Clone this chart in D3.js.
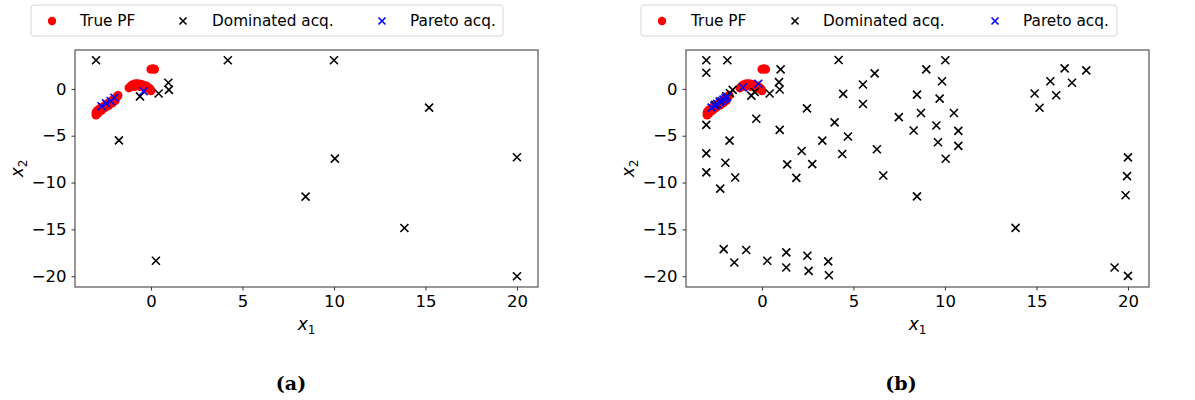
<!DOCTYPE html>
<html>
<head>
<meta charset="utf-8">
<script src="https://cdn.jsdelivr.net/npm/d3@7"></script>
<style>
  body { margin: 0; background: #fff; }
  svg text { font-family: "DejaVu Sans", sans-serif; }
</style>
</head>
<body>
<svg id="chart" width="1195" height="400"></svg>
<script>
// ---------- data ----------
const xTicks = [0, 5, 10, 15, 20];
const yTicks = [0, -5, -10, -15, -20];
const xDomain = [-4.15, 21.15];
const yDomain = [-21.15, 4.15];
const legendLabels = ["True PF", "Dominated acq.", "Pareto acq."];
const captions = ["(a)", "(b)"];

// True Pareto front (same in both panels)
const truePF = [
  [-3.0,-2.8],[-3.0,-2.55],[-2.95,-2.35],[-2.85,-2.2],[-2.75,-2.05],[-2.65,-1.95],
  [-2.55,-1.85],[-2.45,-1.7],[-2.35,-1.55],[-2.25,-1.45],[-2.15,-1.3],[-2.05,-1.15],
  [-1.95,-1.0],[-1.85,-0.85],[-1.8,-0.7],
  [-2.9,-2.6],[-2.7,-2.3],[-2.5,-2.0],[-2.3,-1.75],[-2.1,-1.5],[-1.95,-1.25],
  [-1.2,0.1],[-1.1,0.3],[-1.0,0.45],[-0.85,0.55],[-0.7,0.55],[-0.55,0.5],
  [-0.4,0.4],[-0.25,0.3],[-0.15,0.15],[-0.05,0.0],[0.0,-0.2],
  [-0.9,0.25],[-0.6,0.25],[-0.3,0.05],
  [0.0,2.1],[0.1,2.15],[0.2,2.1]
];

// Panel (a)
const dominatedA = [
  [-3.0,3.05],[4.2,3.05],[10.0,3.05],[15.2,-2.0],[-1.75,-5.5],[0.27,-18.35],
  [-0.6,-0.8],[0.42,-0.5],[0.95,0.65],[0.98,-0.1],[10.05,-7.45],[20.0,-7.3],
  [8.45,-11.5],[13.85,-14.85],[20.0,-20.0]
];
const paretoA = [
  [-2.7,-1.85],[-2.45,-1.55],[-2.2,-1.3],[-2.0,-0.95],[-0.4,-0.25]
];

// Panel (b)
const dominatedB = [
  [-3.04,3.05],[-1.89,3.05],[-3.04,1.72],[1.02,2.08],[0.93,0.72],[0.97,-0.07],
  [0.42,-0.5],[-0.58,-0.72],[-0.4,-0.32],[-0.31,-3.19],[0.97,-4.37],[-3.04,-3.84],
  [-1.77,-5.52],[-3.04,-6.88],[-2.0,-7.89],[-3.04,-8.92],[-1.46,-9.46],[-2.28,-10.65],
  [1.38,-8.06],[1.88,-9.5],[2.17,-6.63],[2.75,-8.03],[2.46,-2.08],[3.3,-5.52],
  [3.97,-3.58],[4.19,3.08],[4.44,-0.54],[4.39,-6.95],[4.7,-5.09],[5.52,0.47],
  [5.52,-1.61],[6.16,1.65],[6.28,-6.45],[6.63,-9.25],[7.48,-3.01],
  [-2.09,-17.1],[-1.51,-18.53],[-0.86,-17.2],[0.29,-18.35],[1.33,-17.46],[1.33,-19.07],
  [2.48,-17.81],[2.55,-19.43],[3.62,-18.42],[3.66,-19.89],
  [8.98,2.08],[10.02,3.05],[9.84,0.82],[8.47,-0.61],[9.71,-1.04],[8.69,-2.58],
  [10.49,-2.58],[8.29,-4.44],[9.53,-3.91],[10.73,-4.48],[9.62,-5.7],[10.73,-6.09],
  [10.04,-7.46],[8.47,-11.47],
  [14.9,-0.5],[15.17,-2.01],[15.76,0.82],[16.08,-0.68],[16.54,2.19],[16.94,0.65],
  [17.72,1.97],[13.86,-14.84],[20.0,-7.31],[19.95,-9.32],[19.87,-11.36],
  [19.27,-19.07],[20.0,-19.96],
  [-2.55,-1.7],[-2.3,-1.35],[-1.95,-0.8],[-1.75,-0.45],[-1.6,-0.1]
];
const paretoB = [
  [-2.75,-2.0],[-2.6,-1.8],[-2.45,-1.6],[-2.3,-1.45],[-2.2,-1.3],[-2.1,-1.15],
  [-2.0,-1.0],[-1.9,-0.85],[-1.05,0.15],[-0.2,0.55]
];

// ---------- drawing ----------
const svg = d3.select("#chart");
const fmt = d => (d < 0 ? "\u2212" + Math.abs(d) : String(d));

const panels = [
  { left: 75, right: 538, dom: dominatedA, par: paretoA, cap: captions[0], capX: 291,
    legend: { x0: 31, x1: 503, dot: 52, t1: 80, xb: 183, t2: 212, xp: 382, t3: 410 } },
  { left: 686, right: 1149, dom: dominatedB, par: paretoB, cap: captions[1], capX: 901,
    legend: { x0: 641, x1: 1117, dot: 662, t1: 691, xb: 795, t2: 823, xp: 995, t3: 1023 } }
];
const plotTop = 50, plotBottom = 287;

function cross(g, cx, cy, color, h) {
  g.append("path")
    .attr("d", `M${cx-h},${cy-h}L${cx+h},${cy+h}M${cx-h},${cy+h}L${cx+h},${cy-h}`)
    .attr("stroke", color).attr("stroke-width", 1.6).attr("fill", "none");
}

panels.forEach(p => {
  const x = d3.scaleLinear().domain(xDomain).range([p.left, p.right]);
  const y = d3.scaleLinear().domain(yDomain).range([plotBottom, plotTop]);
  const g = svg.append("g");

  // axes
  const xa = g.append("g").attr("transform", `translate(0,${plotBottom})`)
    .call(d3.axisBottom(x).tickValues(xTicks).tickFormat(fmt).tickSize(3.5).tickPadding(4.5));
  const ya = g.append("g").attr("transform", `translate(${p.left},0)`)
    .call(d3.axisLeft(y).tickValues(yTicks).tickFormat(fmt).tickSize(3.5).tickPadding(5));
  [xa, ya].forEach(a => {
    a.select(".domain").remove();
    a.selectAll(".tick line").attr("stroke", "#333").attr("stroke-width", 1);
    a.selectAll(".tick text").attr("fill", "#000").style("font-size", "16.5px")
      .style("font-family", "DejaVu Sans, sans-serif");
  });

  // frame
  g.append("rect").attr("x", p.left).attr("y", plotTop)
    .attr("width", p.right - p.left).attr("height", plotBottom - plotTop)
    .attr("fill", "none").attr("stroke", "#333").attr("stroke-width", 1);

  // true PF
  g.append("g").selectAll("circle").data(truePF).join("circle")
    .attr("cx", d => x(d[0])).attr("cy", d => y(d[1])).attr("r", 4.5).attr("fill", "#ff0000");
  // dominated
  const gd = g.append("g");
  p.dom.forEach(d => cross(gd, x(d[0]), y(d[1]), "#000", 4));
  // pareto
  const gp = g.append("g");
  p.par.forEach(d => cross(gp, x(d[0]), y(d[1]), "#0000ff", 4));

  // axis labels
  const cx = (p.left + p.right) / 2;
  const xl = g.append("text").attr("x", cx).attr("y", 330).attr("text-anchor", "middle")
    .style("font-size", "17px");
  xl.append("tspan").text("x").style("font-style", "italic");
  xl.append("tspan").text("1").attr("dy", 4).style("font-size", "12px");
  const yl = g.append("text")
    .attr("transform", `translate(${p.left - 52},${(plotTop + plotBottom) / 2}) rotate(-90)`)
    .attr("text-anchor", "middle").style("font-size", "17px");
  yl.append("tspan").text("x").style("font-style", "italic");
  yl.append("tspan").text("2").attr("dy", 4).style("font-size", "12px");

  // caption
  g.append("text").attr("x", p.capX).attr("y", 390).attr("text-anchor", "middle")
    .style("font-family", "'DejaVu Serif', serif").style("font-weight", "bold")
    .style("font-size", "19px").text(p.cap);

  // legend
  const L = p.legend;
  g.append("rect").attr("x", L.x0).attr("y", 5).attr("width", L.x1 - L.x0).attr("height", 31)
    .attr("rx", 3).attr("fill", "#fff").attr("stroke", "#d6d6d6").attr("stroke-width", 1);
  g.append("circle").attr("cx", L.dot).attr("cy", 21).attr("r", 4.2).attr("fill", "#ff0000");
  cross(g, L.xb, 21, "#000", 3.5);
  cross(g, L.xp, 21, "#0000ff", 3.5);
  [[L.t1, legendLabels[0]], [L.t2, legendLabels[1]], [L.t3, legendLabels[2]]].forEach(([tx, t]) => {
    g.append("text").attr("x", tx).attr("y", 26).style("font-size", "15.3px").attr("fill", "#000").text(t);
  });
});
</script>
</body>
</html>
